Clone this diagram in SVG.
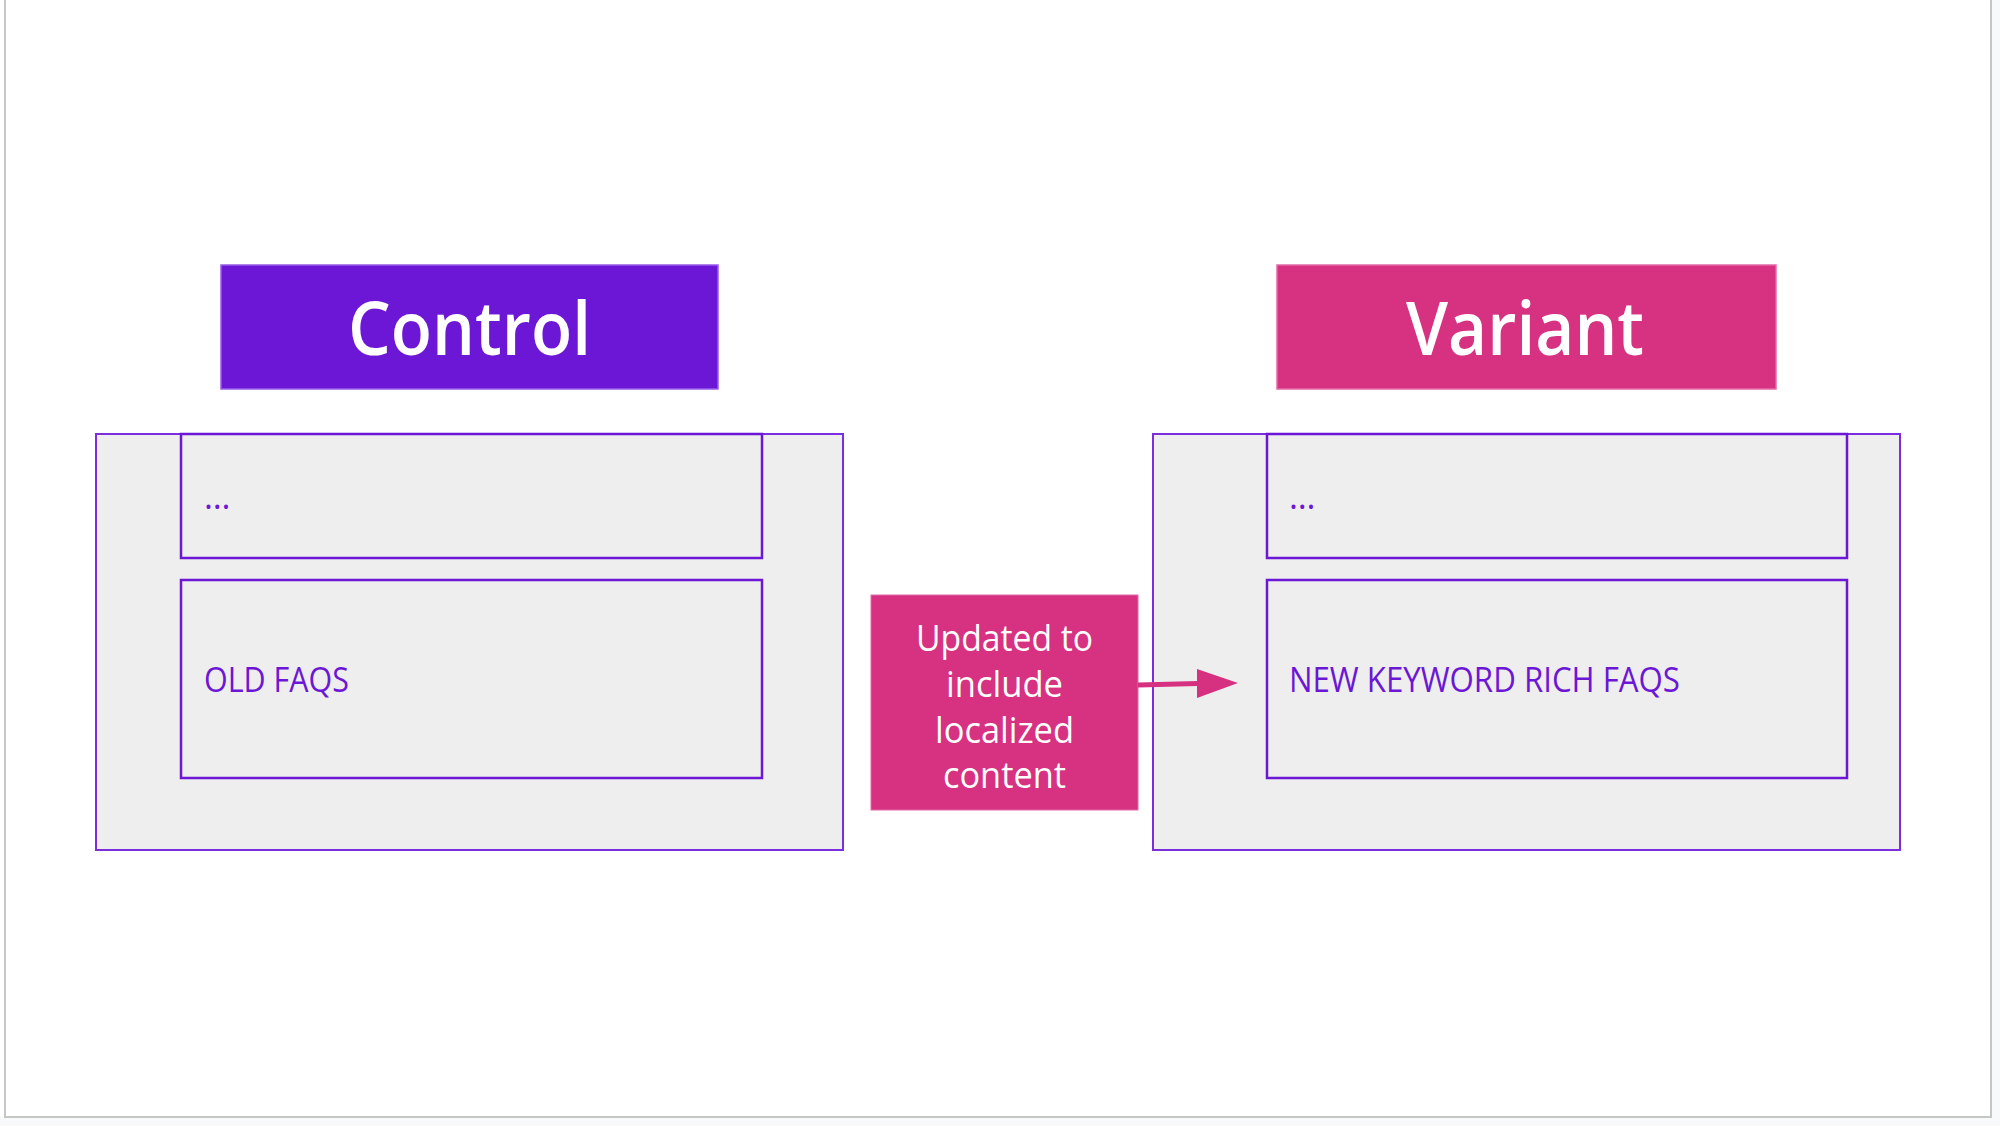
<svg xmlns="http://www.w3.org/2000/svg" width="2000" height="1126" viewBox="0 0 2000 1126">
<style>
.title{font-family:"Open Sans","Liberation Sans",sans-serif;font-weight:600;font-size:74px;fill:#ffffff;text-anchor:middle}
.lbl{font-family:"Open Sans","Liberation Sans",sans-serif;font-size:34px;fill:#6c16d6}
.mid{font-family:"Open Sans","Liberation Sans",sans-serif;font-size:36px;fill:#ffffff;text-anchor:middle}
.outer{fill:#eeeeee;stroke:#7a2ee0;stroke-width:2}
.inner{fill:#eeeeee;stroke:#6c16d6;stroke-width:2.5}
.conn{stroke:#d63181;stroke-width:5;fill:none}
.head{fill:#d63181}
</style>
<rect x="0" y="0" width="2000" height="1126" fill="#f8f9fb"/>
<rect x="0" y="0" width="1991" height="1117" fill="#ffffff"/>
<path d="M5,0 V1117 H1991 V0" fill="none" stroke="#c4c7c4" stroke-width="2"/>
<g id="control-header">
<rect x="221" y="265" width="497" height="124" fill="#6d17d6" stroke="#9a5ce8" stroke-width="1.5"/>
<text class="title" x="469.5" y="355" textLength="243" lengthAdjust="spacingAndGlyphs">Control</text>
</g>
<g id="variant-header">
<rect x="1277" y="265" width="499" height="124" fill="#d73181" stroke="#e46aa6" stroke-width="1.5"/>
<text class="title" x="1525" y="355" textLength="238" lengthAdjust="spacingAndGlyphs">Variant</text>
</g>
<g id="control-page">
<rect class="outer" x="96" y="434" width="747" height="416"/>
</g>
<g id="control-top">
<rect class="inner" x="181" y="434" width="581" height="124"/>
<text class="lbl" x="204" y="509" textLength="30" lengthAdjust="spacing">…</text>
</g>
<g id="control-faqs">
<rect class="inner" x="181" y="580" width="581" height="198"/>
<text class="lbl" x="204" y="692" textLength="145" lengthAdjust="spacingAndGlyphs">OLD FAQS</text>
</g>
<g id="variant-page">
<rect class="outer" x="1153" y="434" width="747" height="416"/>
</g>
<g id="variant-top">
<rect class="inner" x="1267" y="434" width="580" height="124"/>
<text class="lbl" x="1289" y="509" textLength="30" lengthAdjust="spacing">…</text>
</g>
<g id="variant-faqs">
<rect class="inner" x="1267" y="580" width="580" height="198"/>
<text class="lbl" x="1289" y="692" textLength="391" lengthAdjust="spacingAndGlyphs">NEW KEYWORD RICH FAQS</text>
</g>
<g id="update-note">
<rect x="871" y="595" width="267" height="215" fill="#d73181" stroke="#e46aa6" stroke-width="1"/>
<text class="mid" x="1004.5" y="651" textLength="177" lengthAdjust="spacingAndGlyphs">Updated to</text>
<text class="mid" x="1004.5" y="697" textLength="117" lengthAdjust="spacingAndGlyphs">include</text>
<text class="mid" x="1004.5" y="743" textLength="139" lengthAdjust="spacingAndGlyphs">localized</text>
<text class="mid" x="1004.5" y="788" textLength="123" lengthAdjust="spacingAndGlyphs">content</text>
</g>
<g id="connectors">
<line class="conn" x1="1138" y1="685" x2="1198" y2="683.5"/>
<path class="head" d="M1197,669 L1238,683 L1197,698 Z"/>
</g>
</svg>
